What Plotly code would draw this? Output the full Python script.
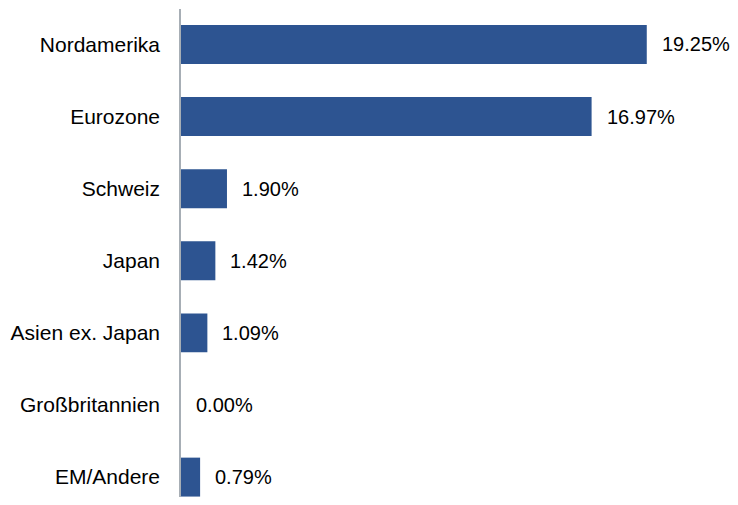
import plotly.graph_objects as go

categories = ["Nordamerika", "Eurozone", "Schweiz", "Japan", "Asien ex. Japan", "Großbritannien", "EM/Andere"]
values = [19.25, 16.97, 1.90, 1.42, 1.09, 0.00, 0.79]
labels = [f"{v:.2f}%" for v in values]

FONT = "Liberation Sans, Arial, sans-serif"
BAR_COLOR = "#2D5491"

fig = go.Figure()
fig.add_trace(go.Bar(
    x=values, y=categories, orientation="h",
    marker=dict(color=BAR_COLOR, line=dict(width=0)),
    width=0.54, hoverinfo="skip",
))

for c, v, t in zip(categories, values, labels):
    fig.add_annotation(x=v, y=c, text=t, showarrow=False, xanchor="left",
                       xshift=13, font=dict(family=FONT, size=20, color="#000000"))

fig.update_layout(
    width=722, height=489,
    margin=dict(l=173, r=0, t=1, b=0),
    paper_bgcolor="white", plot_bgcolor="white",
    showlegend=False,
    xaxis=dict(range=[0, 22.69], visible=False, fixedrange=True),
    yaxis=dict(
        categoryorder="array", categoryarray=categories,
        range=[6.276, -0.492],
        showline=True, linecolor="#A7AEB5", linewidth=1.5,
        showgrid=False, zeroline=False, ticks="",
        ticklabelstandoff=15,
        tickfont=dict(family=FONT, size=21, color="#000000"),
    ),
)

fig.write_html("out.html")
